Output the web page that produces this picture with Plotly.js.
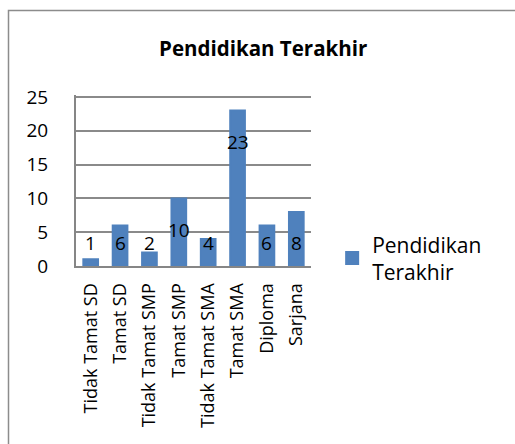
<!DOCTYPE html>
<html>
<head>
<meta charset="utf-8">
<script src="https://cdn.plot.ly/plotly-3.0.1.min.js"></script>
<style>html,body{margin:0;padding:0;background:#fff;}#chart{width:515px;height:444px;}</style>
</head>
<body>
<div id="chart"></div>
<script>
const categories = ["Tidak Tamat SD","Tamat SD","Tidak Tamat SMP","Tamat SMP","Tidak Tamat SMA","Tamat SMA","Diploma","Sarjana"];
const values = [1, 6, 2, 10, 4, 23, 6, 8];
const seriesName = "Pendidikan Terakhir";
const yTicks = [0, 5, 10, 15, 20, 25];

const FONT = "Open Sans, Noto Sans, sans-serif";

const annotations = categories.map((c, i) => ({
  x: c, y: Math.max(values[i] - 4.6, 3.4), xref: 'x', yref: 'y',
  text: String(values[i]), showarrow: false,
  font: {family: FONT, size: 19, color: '#000'}
}));

const trace = {
  type: 'bar', x: categories, y: values, name: "Pendidikan<br>Terakhir",
  marker: {color: '#4F81BD', line: {color: '#4F81BD', width: 2}}, hoverinfo: 'none'
};

const layout = {
  width: 515, height: 444,
  margin: {l: 76, r: 204, t: 95, b: 178},
  paper_bgcolor: '#fff', plot_bgcolor: '#fff',
  bargap: 0.5,
  title: {text: "<b>Pendidikan Terakhir</b>", font: {family: FONT, size: 20.5, color: '#000'},
          x: 0.511, xref: 'container', y: 1 - 49/444, yref: 'container', xanchor: 'center', yanchor: 'middle'},
  xaxis: {
    type: 'category', tickangle: -90, showgrid: false, showline: true, linecolor: '#868686', linewidth: 2,
    ticks: '', tickfont: {family: FONT, size: 18, color: '#000'}, ticklabelstandoff: 8, fixedrange: true
  },
  yaxis: {
    range: [0, 25.3], tickvals: yTicks, showgrid: true, gridcolor: '#8a8a8a', gridwidth: 2,
    showline: true, linecolor: '#868686', linewidth: 2, zeroline: false, ticks: '',
    tickfont: {family: FONT, size: 19, color: '#000'}, ticklabelstandoff: 22, fixedrange: true
  },
  showlegend: true,
  legend: {x: 1.09, xanchor: 'left', y: 0.045, yanchor: 'middle', font: {family: FONT, size: 21, color: '#000'},
           bgcolor: 'rgba(0,0,0,0)', itemwidth: 30},
  annotations: annotations,
  shapes: [{type: 'rect', xref: 'paper', yref: 'paper', x0: (8.5-76)/235, x1: 3, y0: -3, y1: (266-10.5)/171,
            line: {color: '#8c8c8c', width: 1.5}, fillcolor: 'rgba(0,0,0,0)', layer: 'below'}]
};

Plotly.newPlot('chart', [trace], layout, {displayModeBar: false, staticPlot: true});
</script>
</body>
</html>
